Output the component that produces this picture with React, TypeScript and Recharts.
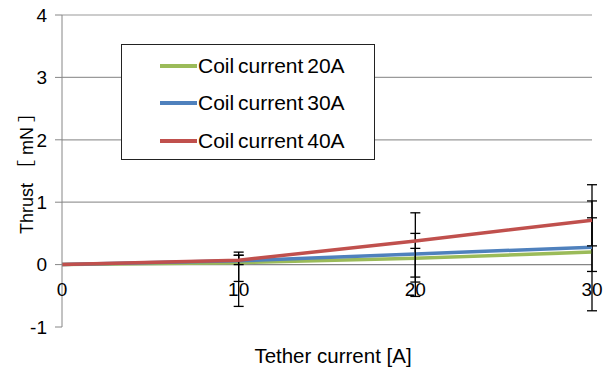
import React from "react";
import { LineChart, Line, XAxis, YAxis, ReferenceLine, ErrorBar, Legend } from "recharts";

// Tether current [A]
const TETHER_CURRENT = [0, 10, 20, 30];

// Thrust [mN] for each coil current
const COIL_20A = [0, 0.03, 0.1, 0.2];
const COIL_30A = [0, 0.06, 0.17, 0.28];
const COIL_40A = [0, 0.07, 0.38, 0.71];

// error bars as [below, above]
const ERR_20A: ([number, number] | null)[] = [null, [0.3, 0.12], [0.3, 0.16], [0.31, 0.55]];
const ERR_30A: ([number, number] | null)[] = [null, [0.06, 0.09], [0.45, 0.33], [1.02, 0.74]];
const ERR_40A: ([number, number] | null)[] = [null, [0.74, 0.13], [0.89, 0.45], [0.41, 0.57]];

const Y_TICKS = [-1, 0, 1, 2, 3, 4];
const GRID_VALUES = [1, 2, 3, 4];

const SERIES = [
  { key: "c20", err: "e20", name: "Coil current 20A", color: "#9BBB59" },
  { key: "c30", err: "e30", name: "Coil current 30A", color: "#4F81BD" },
  { key: "c40", err: "e40", name: "Coil current 40A", color: "#C0504D" },
];

const data = TETHER_CURRENT.map((x, i) => ({
  x,
  c20: COIL_20A[i],
  c30: COIL_30A[i],
  c40: COIL_40A[i],
  e20: ERR_20A[i],
  e30: ERR_30A[i],
  e40: ERR_40A[i],
}));

const W = 613;
const H = 367;
const MARGIN = { top: 15, right: 21, bottom: 0, left: 0 };
const Y_AXIS_W = 62;
const X_AXIS_H = 40;
const PLOT_H = H - MARGIN.top - MARGIN.bottom - X_AXIS_H;
const Y_MIN = -1;
const Y_MAX = 4;
// x-axis crosses at zero, so the tick labels sit under the zero line
const ZERO_SHIFT = (PLOT_H * (0 - Y_MIN)) / (Y_MAX - Y_MIN);

const FONT = "'Liberation Sans', Arial, 'Noto Sans CJK JP', sans-serif";
const AXIS_GRAY = "#868686";
const TICK_SIZE = 19;

const XTick = (props: any) => {
  const { x, y, payload } = props;
  return (
    <text
      x={x}
      y={y - ZERO_SHIFT + 18}
      dy="0.71em"
      textAnchor="middle"
      fill="#000"
      fontSize={TICK_SIZE}
      fontFamily={FONT}
    >
      {payload.value}
    </text>
  );
};

const LegendBox = (props: any) => {
  const { payload } = props;
  return (
    <div
      style={{
        width: 254,
        height: 116,
        border: "1.5px solid #222",
        background: "#fff",
        boxSizing: "border-box",
        paddingTop: 2,
        fontFamily: FONT,
        fontSize: 21,
        wordSpacing: -2,
      }}
    >
      {(payload || []).map((p: any) => (
        <div key={p.value} style={{ display: "flex", alignItems: "center", height: 37.5 }}>
          <span
            style={{
              display: "inline-block",
              width: 37,
              height: 4,
              background: p.color,
              marginLeft: 38,
              marginRight: 1,
            }}
          />
          <span style={{ color: "#000" }}>{p.value}</span>
        </div>
      ))}
    </div>
  );
};

export default function App() {
  return (
    <div style={{ position: "absolute", left: 0, top: 0, width: W, height: H, background: "#fff" }}>
      <LineChart width={W} height={H} data={data} margin={MARGIN}>
        <XAxis
          dataKey="x"
          type="number"
          domain={[0, 30]}
          ticks={TETHER_CURRENT}
          axisLine={false}
          tickLine={false}
          tickSize={0}
          tickMargin={0}
          height={X_AXIS_H}
          tick={<XTick />}
          label={{
            value: "Tether current [A]",
            position: "insideBottom",
            offset: 4,
            dx: 6,
            style: { fontSize: 20.5, fill: "#000", fontFamily: FONT },
          }}
        />
        <YAxis
          type="number"
          domain={[Y_MIN, Y_MAX]}
          ticks={Y_TICKS}
          width={Y_AXIS_W}
          stroke={AXIS_GRAY}
          tickSize={7}
          tickMargin={8}
          tick={{ fill: "#000", fontSize: TICK_SIZE, fontFamily: FONT }}
          label={{
            value: "Thrust ［ mN ］",
            angle: -90,
            position: "insideLeft",
            offset: 27,
            dy: -2,
            style: { textAnchor: "middle", fontSize: 18, fill: "#000", fontFamily: FONT },
          }}
        />
        {GRID_VALUES.map((v) => (
          <ReferenceLine key={v} y={v} stroke="#9a9a9a" strokeWidth={1.2} />
        ))}
        <ReferenceLine y={0} stroke={AXIS_GRAY} strokeWidth={1.2} />
        <Legend
          layout="vertical"
          align="center"
          verticalAlign="middle"
          content={<LegendBox />}
          wrapperStyle={{ left: 121, top: 44, width: 254 }}
        />
        {SERIES.map((s) => (
          <Line
            key={s.key}
            type="linear"
            dataKey={s.key}
            name={s.name}
            stroke={s.color}
            strokeWidth={3.5}
            dot={false}
            activeDot={false}
            isAnimationActive={false}
          >
            <ErrorBar dataKey={s.err} width={5} stroke="#000" strokeWidth={1.3} direction="y" />
          </Line>
        ))}
      </LineChart>
    </div>
  );
}
